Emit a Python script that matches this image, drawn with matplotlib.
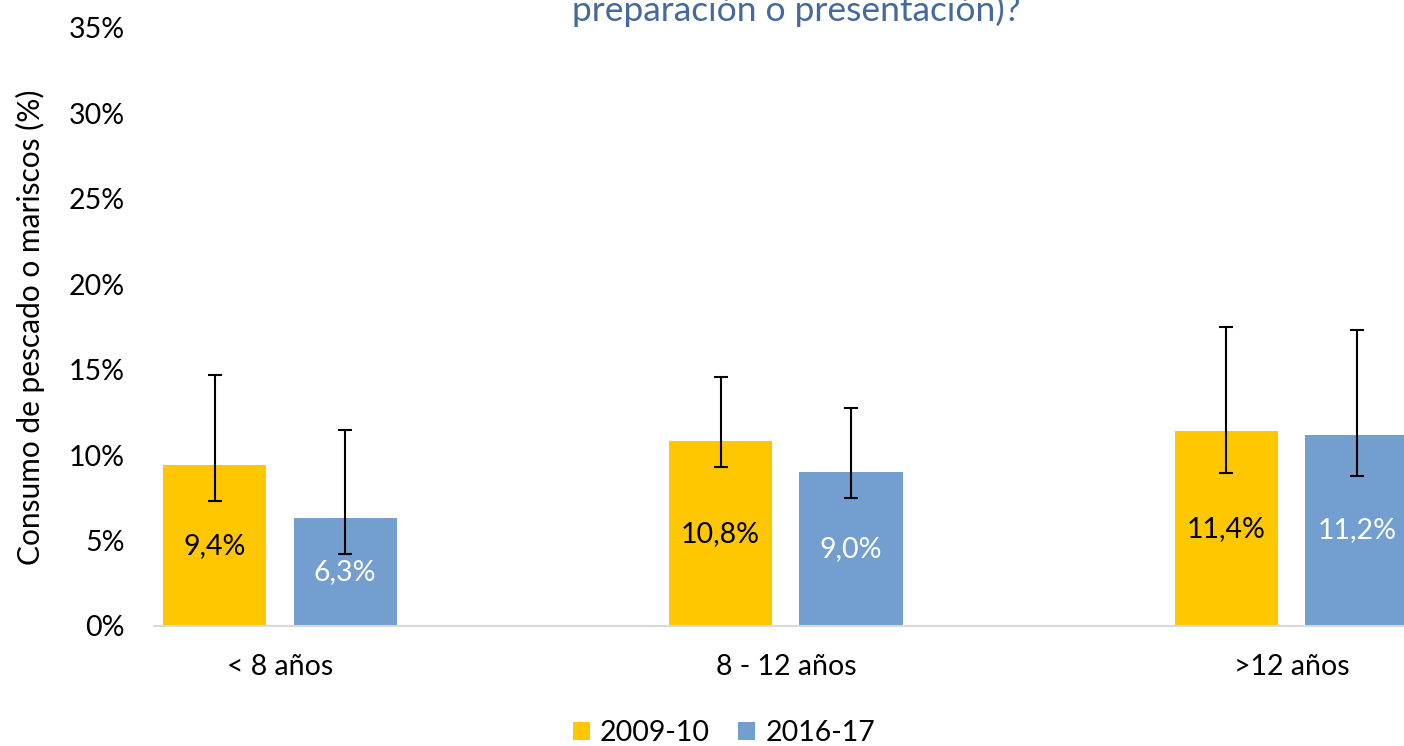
import matplotlib
matplotlib.use("Agg")
import matplotlib.pyplot as plt
import numpy as np

plt.rcParams['font.family'] = ['Lato', 'DejaVu Sans']

categories = ["< 8 años", "8 - 12 años", ">12 años"]
series = ["2009-10", "2016-17"]
vals_0910 = [9.4, 10.8, 11.4]
vals_1617 = [6.3, 9.0, 11.2]
# error bar ends (low, high), in %
err_0910_low = [7.3, 9.3, 8.95]
err_0910_high = [14.7, 14.6, 17.5]
err_1617_low = [4.2, 7.5, 8.8]
err_1617_high = [11.5, 12.75, 17.3]

yellow = "#FFC700"
blue = "#729FCF"

fig = plt.figure(figsize=(14.04, 7.46), dpi=100)
ax = fig.add_axes([154/1404, 1-626/746, 1-154/1404, (626-28)/746])

x = np.arange(len(categories))
w = 0.204
off = 0.129

def yerr(vals, lo, hi):
    return [np.array(vals) - np.array(lo), np.array(hi) - np.array(vals)]

ax.bar(x - off, vals_0910, w, color=yellow, label=series[0], zorder=2)
ax.bar(x + off, vals_1617, w, color=blue, label=series[1], zorder=2)
ax.errorbar(x - off, vals_0910, yerr=yerr(vals_0910, err_0910_low, err_0910_high),
            fmt='none', ecolor='black', elinewidth=1.5, capsize=5, capthick=1.5, zorder=3)
ax.errorbar(x + off, vals_1617, yerr=yerr(vals_1617, err_1617_low, err_1617_high),
            fmt='none', ecolor='black', elinewidth=1.5, capsize=5, capthick=1.5, zorder=3)

fs = 20.5
for i in range(len(categories)):
    ax.text(x[i] - off, vals_0910[i] / 2, f"{vals_0910[i]:.1f}%".replace('.', ','),
            ha='center', va='center', fontsize=fs, color='black', zorder=4)
    ax.text(x[i] + off, vals_1617[i] / 2, f"{vals_1617[i]:.1f}%".replace('.', ','),
            ha='center', va='center', fontsize=fs, color='white', zorder=4)

ax.set_xlim(-0.249, 2.222)
ax.set_ylim(0, 35)
ax.set_yticks(range(0, 36, 5))
ax.set_yticklabels([f"{v}%" for v in range(0, 36, 5)])
ax.set_xticks(x)
ax.set_xticklabels(categories)
ax.tick_params(axis='both', length=0, labelsize=fs, colors='black')
ax.tick_params(axis='y', pad=21)
ax.tick_params(axis='x', pad=20)
for s in ['top', 'right', 'left']:
    ax.spines[s].set_visible(False)
ax.spines['bottom'].set_color('#D9D9D9')
ax.spines['bottom'].set_linewidth(1.5)

fig.text(30/1404, 1-327/746, "Consumo de pescado o mariscos (%)", rotation=90,
         ha='center', va='center', fontsize=21.5)

# title is cropped at the top edge in the original chart
fig.text(796/1404, 1-21/746, "preparación o presentación)?", ha='center',
         va='baseline', fontsize=25.5, color='#44699A')

ax.legend(loc='center', bbox_to_anchor=(724/1404, 1-733/746),
          bbox_transform=fig.transFigure, ncol=2, frameon=False, fontsize=fs,
          handlelength=0.6, handleheight=0.6, handletextpad=0.35, columnspacing=1.0)

fig.savefig("out.png", dpi=100)
